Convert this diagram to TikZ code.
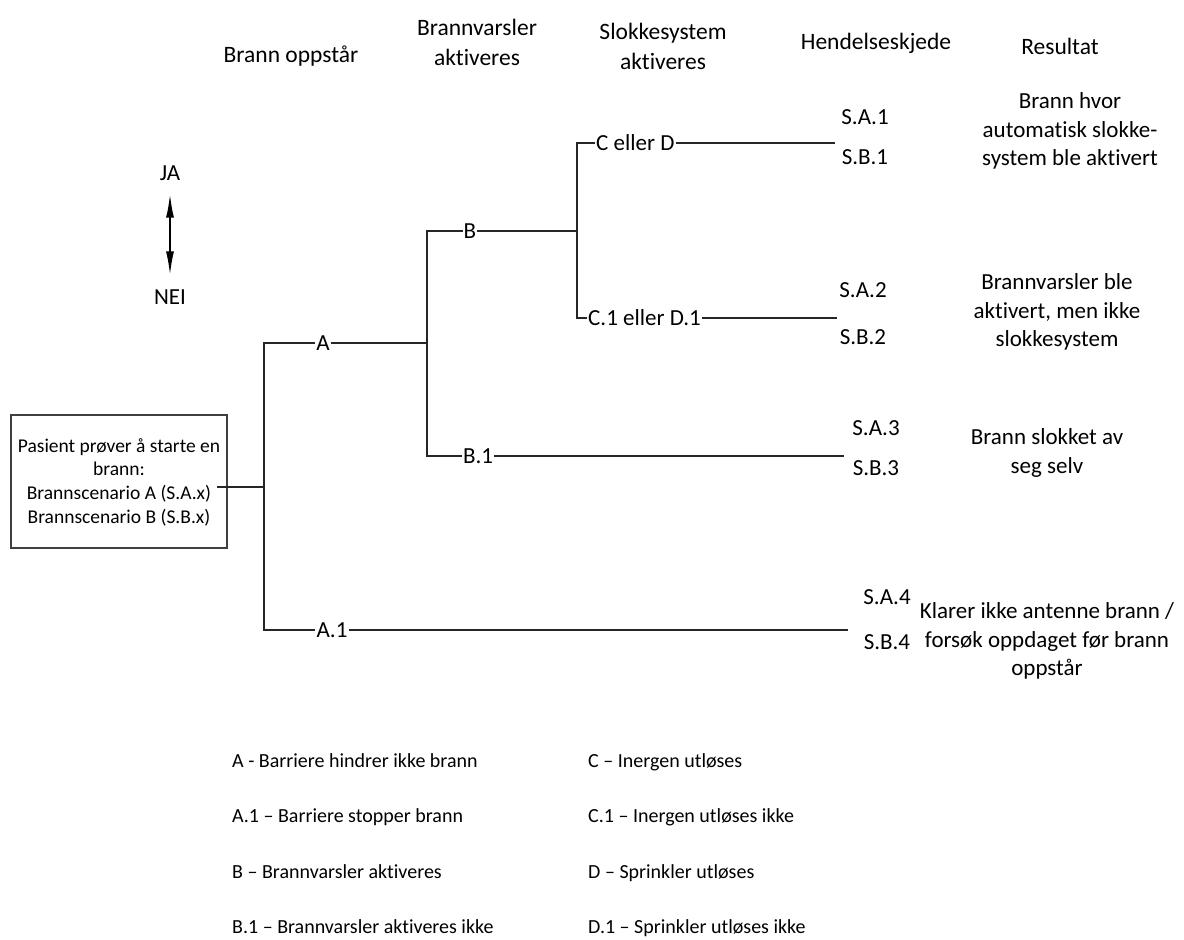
\documentclass[tikz,border=0pt]{standalone}
\usepackage{fontspec}
\setmainfont{Carlito}[Ligatures=NoCommon]
\usetikzlibrary{arrows.meta}
\begin{document}
\begin{tikzpicture}[x=1pt,y=-1pt,
  line/.style={line width=1.4pt,draw=black!85},
  lbl/.style={font=\fontsize{23}{28}\selectfont,inner sep=1pt},
  hdr/.style={font=\fontsize{23.5}{30}\selectfont,align=center,inner sep=0pt},
  res/.style={font=\fontsize{23}{28.5}\selectfont,align=center,inner sep=0pt},
  leg/.style={font=\fontsize{20}{24}\selectfont,anchor=base west,inner sep=0pt},
  term/.style={font=\fontsize{23}{28}\selectfont,inner sep=0pt}]
\useasboundingbox (0,0) rectangle (1184,940);

% headers
\node[hdr] (h1) at (291,56) {Brann oppstår};
\node[hdr] (h2) at (477,42) {Brannvarsler\\aktiveres};
\node[hdr] (h3) at (663,46) {Slokkesystem\\aktiveres};
\node[hdr] (h4) at (876,43) {Hendelseskjede};
\node[hdr] (h5) at (1060,46) {Resultat};

% JA / NEI
\node[term] (ja) at (170,173) {JA};
\node[term] (nei) at (170,297) {NEI};
\draw[line width=2.4pt,{Latex[length=25pt,width=8pt]}-{Latex[length=25pt,width=8pt]}]
  ([yshift=-12pt]ja.south) -- ([yshift=13pt]nei.north);

% start box
\node[draw=black!75,line width=1.2pt,minimum width=216pt,minimum height=133pt,inner sep=0pt] (box) at (119,481.5) {};
\node[font=\fontsize{19.5}{23.7}\selectfont,align=center,inner sep=0pt] (boxtxt) at (119,482)
  {Pasient prøver å starte en\\brann:\\Brannscenario A (S.A.x)\\Brannscenario B (S.B.x)};

% junctions
\coordinate (src) at (217,487);
\coordinate (j0) at (264,487);
\coordinate (j1) at (427,343);
\coordinate (j2) at (577,231);

% branch labels
\node[lbl] (lA) at (323,343) {A};
\node[lbl] (lA1) at (332,630) {A.1};
\node[lbl] (lB) at (470,231) {B};
\node[lbl] (lB1) at (478,456) {B.1};
\node[lbl,anchor=west] (lC) at (595,143) {C eller D};
\node[lbl,anchor=west] (lC1) at (587,318) {C.1 eller D.1};

% ends
\coordinate (e1) at (835,143);
\coordinate (e2) at (837,318);
\coordinate (e3) at (844,456);
\coordinate (e4) at (848,630);

% connectors
\draw[line] (src) -- (j0);
\draw[line] (j0) |- (lA);
\draw[line] (lA) -- (j1);
\draw[line] (j0) |- (lA1);
\draw[line] (lA1) -- (e4);
\draw[line] (j1) |- (lB);
\draw[line] (lB) -- (j2);
\draw[line] (j1) |- (lB1);
\draw[line] (lB1) -- (e3);
\draw[line] (j2) |- (lC);
\draw[line] (lC) -- (e1);
\draw[line] (j2) |- (lC1);
\draw[line] (lC1) -- (e2);

% terminal labels
\node[term] (sa1) at (865,117) {S.A.1};
\node[term] (sb1) at (865,157) {S.B.1};
\node[term] (sa2) at (863,290) {S.A.2};
\node[term] (sb2) at (863,337) {S.B.2};
\node[term] (sa3) at (876,428) {S.A.3};
\node[term] (sb3) at (876,468) {S.B.3};
\node[term] (sa4) at (887,597) {S.A.4};
\node[term] (sb4) at (887,642) {S.B.4};

% results
\node[res] (r1) at (1070,131) {Brann hvor\\automatisk slokke-\\system ble aktivert};
\node[res] (r2) at (1057,312) {Brannvarsler ble\\aktivert, men ikke\\slokkesystem};
\node[res] (r3) at (1047,453) {Brann slokket av\\seg selv};
\node[res] (r4) at (1047,641) {Klarer ikke antenne brann /\\forsøk oppdaget før brann\\oppstår};

% legend
\node[leg] (g1) at (232,767) {A - Barriere hindrer ikke brann};
\node[leg] (g2) at (232,822) {A.1 – Barriere stopper brann};
\node[leg] (g3) at (232,878) {B – Brannvarsler aktiveres};
\node[leg] (g4) at (232,933) {B.1 – Brannvarsler aktiveres ikke};
\node[leg] (g5) at (588,767) {C – Inergen utløses};
\node[leg] (g6) at (588,822) {C.1 – Inergen utløses ikke};
\node[leg] (g7) at (588,878) {D – Sprinkler utløses};
\node[leg] (g8) at (588,933) {D.1 – Sprinkler utløses ikke};
\end{tikzpicture}
\end{document}
